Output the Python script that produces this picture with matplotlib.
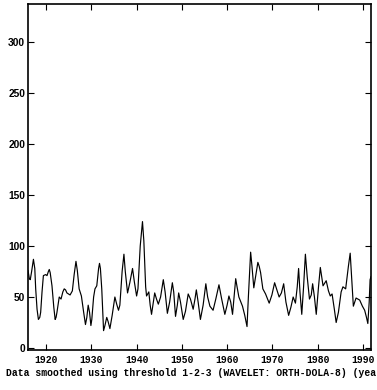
import matplotlib
matplotlib.use("Agg")
import matplotlib.pyplot as plt

# smoothed series (year, value)
years = [1916.0, 1916.3, 1916.5, 1916.8, 1917.2, 1917.5, 1917.7, 1918.0, 1918.3, 1918.6,
         1918.8, 1919.1, 1919.4, 1919.9, 1920.2, 1920.5, 1920.7, 1920.9, 1921.3, 1921.7,
         1922.0, 1922.2, 1922.4, 1922.9, 1923.3, 1923.7, 1924.0, 1924.3, 1924.6, 1925.3,
         1925.8, 1926.2, 1926.6, 1926.9, 1927.3, 1927.8, 1928.3, 1928.7, 1929.0, 1929.3,
         1929.6, 1929.9, 1930.1, 1930.5, 1930.8, 1931.2, 1931.6, 1931.8, 1932.0, 1932.3,
         1932.7, 1933.0, 1933.4, 1933.7, 1934.1, 1934.6, 1935.2, 1935.6, 1936.0, 1936.3,
         1936.8, 1937.2, 1937.5, 1938.0, 1938.5, 1939.1, 1939.5, 1940.0, 1940.3, 1940.8,
         1941.3, 1941.6, 1942.0, 1942.2, 1942.7, 1943.0, 1943.3, 1943.6, 1944.0, 1944.4,
         1944.8, 1945.3, 1945.9, 1946.3, 1946.8, 1947.3, 1947.9, 1948.2, 1948.6, 1949.0,
         1949.3, 1949.7, 1950.3, 1950.8, 1951.4, 1951.9, 1952.5, 1952.9, 1953.2, 1953.6,
         1954.1, 1954.7, 1955.3, 1955.7, 1956.2, 1956.9, 1957.5, 1958.2, 1958.8, 1959.5,
         1960.0, 1960.4, 1960.8, 1961.2, 1961.5, 1961.9, 1962.2, 1962.6, 1963.4, 1963.9,
         1964.4, 1964.7, 1965.2, 1965.5, 1965.9, 1966.3, 1966.8, 1967.1, 1967.4, 1967.9,
         1968.5, 1969.3, 1969.9, 1970.5, 1971.0, 1971.5, 1972.0, 1972.5, 1973.0, 1973.6,
         1974.1, 1974.6, 1975.1, 1975.5, 1975.8, 1976.1, 1976.5, 1976.9, 1977.3, 1977.7,
         1978.2, 1978.6, 1978.9, 1979.3, 1979.7, 1980.2, 1980.6, 1981.2, 1981.9, 1982.4,
         1982.8, 1983.2, 1983.7, 1984.1, 1984.6, 1985.2, 1985.6, 1986.2, 1986.8, 1987.2,
         1987.5, 1987.9, 1988.5, 1989.3, 1989.9, 1990.4, 1990.8, 1991.1, 1991.4, 1991.6,
         1991.8]
values = [76, 68, 67, 75, 87, 78, 58, 38, 28, 30,
          35, 55, 71, 72, 71, 75, 77, 74, 61, 40,
          28, 30, 35, 50, 48, 55, 58, 57, 54, 52,
          56, 72, 85, 76, 58, 51, 35, 23, 30, 42,
          35, 22, 28, 50, 58, 61, 78, 83, 78, 58,
          17, 22, 30, 26, 19, 32, 50, 43, 37, 42,
          75, 92, 75, 54, 64, 78, 65, 51, 58, 100,
          124, 105, 60, 51, 55, 42, 33, 42, 54, 48,
          43, 50, 67, 55, 34, 45, 64, 55, 31, 42,
          54, 45, 28, 36, 53, 48, 38, 48, 57, 45,
          28, 42, 63, 50, 41, 37, 48, 62, 48, 33,
          42, 51, 45, 33, 48, 68, 60, 50, 41, 32,
          21, 50, 94, 80, 59, 70, 84, 80, 74, 58,
          53, 44, 52, 64, 57, 50, 54, 63, 45, 32,
          40, 50, 44, 60, 78, 55, 33, 60, 92, 70,
          48, 52, 63, 50, 33, 60, 79, 61, 66, 56,
          51, 53, 38, 25, 35, 55, 60, 58, 80, 93,
          70, 41, 49, 47, 41, 37, 30, 24, 45, 67,
          70]

xticks = [1920, 1930, 1940, 1950, 1960, 1970, 1980, 1990]
yticks = [0, 50, 100, 150, 200, 250, 300]
xlabel = "Data smoothed using threshold 1-2-3 (WAVELET: ORTH-DOLA-8) (years)"

plt.rcParams['font.family'] = ['Liberation Mono', 'DejaVu Sans Mono']
plt.rcParams['font.weight'] = 'bold'

fig = plt.figure(figsize=(3.77, 3.90), dpi=100)
ax = fig.add_axes([28 / 377, 40.5 / 390, 343 / 377, 345.5 / 390])

ax.plot(years, values, color='black', linewidth=0.85, solid_joinstyle='round')

ax.set_xlim(1916.0, 1991.8)
ax.set_ylim(-1.5, 337.5)
ax.set_xticks(xticks)
ax.set_yticks(yticks)
ax.tick_params(direction='in', length=4, width=0.8, top=True, right=True, colors='black')
ax.tick_params(axis='x', labelsize=7, pad=4)
ax.tick_params(axis='y', labelsize=7.4, pad=2)
for lab in ax.get_xticklabels():
    lab.set_fontweight('bold')
for lab in ax.get_yticklabels():
    lab.set_fontfamily('Liberation Sans')
    lab.set_fontweight('bold')
for s in ax.spines.values():
    s.set_linewidth(1.2)

ax.set_xlabel(xlabel, fontsize=7, fontweight='bold', labelpad=2)

fig.savefig("out.png", dpi=100)
